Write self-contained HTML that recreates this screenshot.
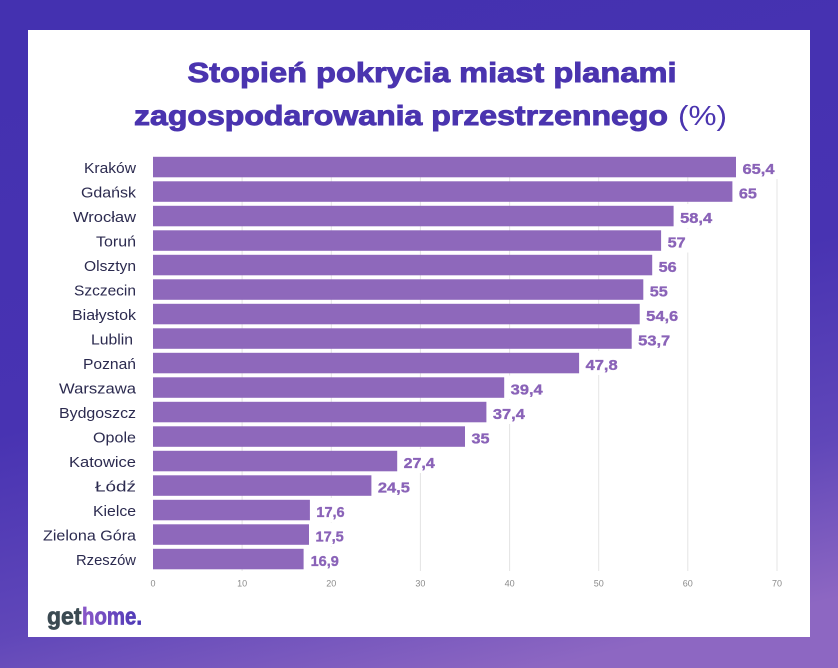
<!DOCTYPE html>
<html>
<head>
<meta charset="utf-8">
<style>
  html,body{margin:0;padding:0;}
  body{width:838px;height:668px;overflow:hidden;}
  svg{display:block;}
  .city{font-family:"Liberation Sans",sans-serif;font-size:15px;fill:#2b2a4f;}
  .val{font-family:"Liberation Sans",sans-serif;font-weight:bold;font-size:14.5px;fill:#8a63b8;stroke:#8a63b8;stroke-width:0.35px;}
  .tick{font-family:"Liberation Sans",sans-serif;font-size:9px;fill:#8a8a8a;}
  .title{font-family:"Liberation Sans",sans-serif;font-weight:bold;font-size:27.5px;fill:#4a34af;stroke:#4a34af;stroke-width:0.9px;}
</style>
</head>
<body>
<svg width="838" height="668" viewBox="0 0 838 668" xmlns="http://www.w3.org/2000/svg">
  <defs>
    <linearGradient id="bg" x1="0.35" y1="0" x2="0.65" y2="1">
      <stop offset="0" stop-color="#4431b0"/>
      <stop offset="0.5" stop-color="#4833b2"/>
      <stop offset="0.78" stop-color="#6047b9"/>
      <stop offset="1" stop-color="#8d67c2"/>
    </linearGradient>
    <linearGradient id="logo" x1="0" y1="0" x2="1" y2="0">
      <stop offset="0" stop-color="#8a58c8"/>
      <stop offset="1" stop-color="#4a38b5"/>
    </linearGradient>
  </defs>
  <rect x="0" y="0" width="838" height="668" fill="url(#bg)"/>
  <rect x="28" y="30" width="782" height="607" fill="#ffffff"/>

  <!-- Title -->
  <text class="title" x="187.5" y="82" textLength="489" lengthAdjust="spacingAndGlyphs">Stopień pokrycia miast planami</text>
  <text class="title" x="134" y="125" textLength="534" lengthAdjust="spacingAndGlyphs">zagospodarowania przestrzennego</text>
  <text x="678" y="125" textLength="49" lengthAdjust="spacingAndGlyphs" style="font-family:'Liberation Sans',sans-serif;font-size:28px;fill:#4a34af;">(%)</text>

  <!-- Gridlines -->
  <g stroke="#e4e4e4" stroke-width="1">
    <line x1="242.1" y1="157" x2="242.1" y2="571"/>
    <line x1="331.3" y1="157" x2="331.3" y2="571"/>
    <line x1="420.4" y1="157" x2="420.4" y2="571"/>
    <line x1="509.6" y1="157" x2="509.6" y2="571"/>
    <line x1="598.7" y1="157" x2="598.7" y2="571"/>
    <line x1="687.8" y1="157" x2="687.8" y2="571"/>
    <line x1="777.0" y1="157" x2="777.0" y2="571"/>
  </g>

  <!-- Bars -->
  <g fill="#8e68bb">
    <rect x="153" y="156.8" width="583.0" height="20.5"/>
    <rect x="153" y="181.3" width="579.4" height="20.5"/>
    <rect x="153" y="205.8" width="520.6" height="20.5"/>
    <rect x="153" y="230.3" width="508.1" height="20.5"/>
    <rect x="153" y="254.8" width="499.2" height="20.5"/>
    <rect x="153" y="279.3" width="490.3" height="20.5"/>
    <rect x="153" y="303.8" width="486.7" height="20.5"/>
    <rect x="153" y="328.3" width="478.7" height="20.5"/>
    <rect x="153" y="352.8" width="426.1" height="20.5"/>
    <rect x="153" y="377.3" width="351.2" height="20.5"/>
    <rect x="153" y="401.8" width="333.4" height="20.5"/>
    <rect x="153" y="426.3" width="312.0" height="20.5"/>
    <rect x="153" y="450.8" width="244.2" height="20.5"/>
    <rect x="153" y="475.3" width="218.4" height="20.5"/>
    <rect x="153" y="499.8" width="156.9" height="20.5"/>
    <rect x="153" y="524.3" width="156.0" height="20.5"/>
    <rect x="153" y="548.8" width="150.6" height="20.5"/>
  </g>

  <!-- Value label backgrounds -->
  <g fill="#ffffff">
    <rect x="739.5" y="155" width="40" height="24"/>
    <rect x="735.9" y="179.5" width="26" height="24"/>
    <rect x="677.1" y="204" width="40" height="24"/>
    <rect x="664.6" y="228.5" width="26" height="24"/>
    <rect x="655.7" y="253" width="26" height="24"/>
    <rect x="646.8" y="277.5" width="26" height="24"/>
    <rect x="643.2" y="302" width="40" height="24"/>
    <rect x="635.2" y="326.5" width="40" height="24"/>
    <rect x="582.6" y="351" width="40" height="24"/>
    <rect x="507.7" y="375.5" width="40" height="24"/>
    <rect x="489.9" y="400" width="40" height="24"/>
    <rect x="468.5" y="424.5" width="26" height="24"/>
    <rect x="400.7" y="449" width="39" height="24"/>
    <rect x="374.9" y="473.5" width="40" height="24"/>
    <rect x="313.4" y="498" width="35" height="24"/>
    <rect x="312.5" y="522.5" width="35" height="24"/>
    <rect x="307.1" y="547" width="36" height="24"/>
  </g>

  <!-- Value labels -->
  <text class="val" x="742.5" y="173.8" textLength="32" lengthAdjust="spacingAndGlyphs">65,4</text>
  <text class="val" x="738.9" y="198.3" textLength="18" lengthAdjust="spacingAndGlyphs">65</text>
  <text class="val" x="680.1" y="222.8" textLength="32" lengthAdjust="spacingAndGlyphs">58,4</text>
  <text class="val" x="667.6" y="247.3" textLength="18" lengthAdjust="spacingAndGlyphs">57</text>
  <text class="val" x="658.7" y="271.8" textLength="18" lengthAdjust="spacingAndGlyphs">56</text>
  <text class="val" x="649.8" y="296.3" textLength="18" lengthAdjust="spacingAndGlyphs">55</text>
  <text class="val" x="646.2" y="320.8" textLength="32" lengthAdjust="spacingAndGlyphs">54,6</text>
  <text class="val" x="638.2" y="345.3" textLength="32" lengthAdjust="spacingAndGlyphs">53,7</text>
  <text class="val" x="585.6" y="369.8" textLength="32" lengthAdjust="spacingAndGlyphs">47,8</text>
  <text class="val" x="510.7" y="394.3" textLength="32" lengthAdjust="spacingAndGlyphs">39,4</text>
  <text class="val" x="492.9" y="418.8" textLength="32" lengthAdjust="spacingAndGlyphs">37,4</text>
  <text class="val" x="471.5" y="443.3" textLength="18" lengthAdjust="spacingAndGlyphs">35</text>
  <text class="val" x="403.7" y="467.8" textLength="31" lengthAdjust="spacingAndGlyphs">27,4</text>
  <text class="val" x="377.9" y="492.3" textLength="32" lengthAdjust="spacingAndGlyphs">24,5</text>
  <text class="val" x="316.4" y="516.8">17,6</text>
  <text class="val" x="315.5" y="541.3">17,5</text>
  <text class="val" x="310.6" y="565.8">16,9</text>

  <!-- City labels -->
  <g text-anchor="end">
    <text class="city" x="136" y="173" textLength="52" lengthAdjust="spacingAndGlyphs">Kraków</text>
    <text class="city" x="136" y="197.5" textLength="55" lengthAdjust="spacingAndGlyphs">Gdańsk</text>
    <text class="city" x="136" y="222" textLength="63" lengthAdjust="spacingAndGlyphs">Wrocław</text>
    <text class="city" x="136" y="246.5" textLength="40" lengthAdjust="spacingAndGlyphs">Toruń</text>
    <text class="city" x="136" y="271" textLength="52" lengthAdjust="spacingAndGlyphs">Olsztyn</text>
    <text class="city" x="136" y="295.5" textLength="62" lengthAdjust="spacingAndGlyphs">Szczecin</text>
    <text class="city" x="136" y="320" textLength="64" lengthAdjust="spacingAndGlyphs">Białystok</text>
    <text class="city" x="133" y="344.5" textLength="42" lengthAdjust="spacingAndGlyphs">Lublin</text>
    <text class="city" x="136" y="369" textLength="53" lengthAdjust="spacingAndGlyphs">Poznań</text>
    <text class="city" x="136" y="393.5" textLength="77" lengthAdjust="spacingAndGlyphs">Warszawa</text>
    <text class="city" x="136" y="418" textLength="77" lengthAdjust="spacingAndGlyphs">Bydgoszcz</text>
    <text class="city" x="136" y="442.5" textLength="43" lengthAdjust="spacingAndGlyphs">Opole</text>
    <text class="city" x="136" y="467" textLength="67" lengthAdjust="spacingAndGlyphs">Katowice</text>
    <text class="city" x="136" y="491.5" textLength="41" lengthAdjust="spacingAndGlyphs">Łódź</text>
    <text class="city" x="136" y="516" textLength="43" lengthAdjust="spacingAndGlyphs">Kielce</text>
    <text class="city" x="136" y="540.5" textLength="93" lengthAdjust="spacingAndGlyphs">Zielona Góra</text>
    <text class="city" x="136" y="565" textLength="60" lengthAdjust="spacingAndGlyphs">Rzeszów</text>
  </g>

  <!-- Tick labels -->
  <g text-anchor="middle">
    <text class="tick" x="153" y="586.5">0</text>
    <text class="tick" x="242.1" y="586.5">10</text>
    <text class="tick" x="331.3" y="586.5">20</text>
    <text class="tick" x="420.4" y="586.5">30</text>
    <text class="tick" x="509.6" y="586.5">40</text>
    <text class="tick" x="598.7" y="586.5">50</text>
    <text class="tick" x="687.8" y="586.5">60</text>
    <text class="tick" x="777.0" y="586.5">70</text>
  </g>

  <!-- Logo -->
  <text x="47" y="624.5" textLength="34.5" lengthAdjust="spacingAndGlyphs" style="font-family:'Liberation Sans',sans-serif;font-weight:bold;font-size:24.5px;fill:#3b4a52;stroke:#3b4a52;stroke-width:0.7px;">get</text>
  <text x="82" y="624.5" textLength="60" lengthAdjust="spacingAndGlyphs" style="font-family:'Liberation Sans',sans-serif;font-weight:bold;font-size:24.5px;stroke:url(#logo);stroke-width:0.7px;" fill="url(#logo)">home.</text>
</svg>
</body>
</html>
